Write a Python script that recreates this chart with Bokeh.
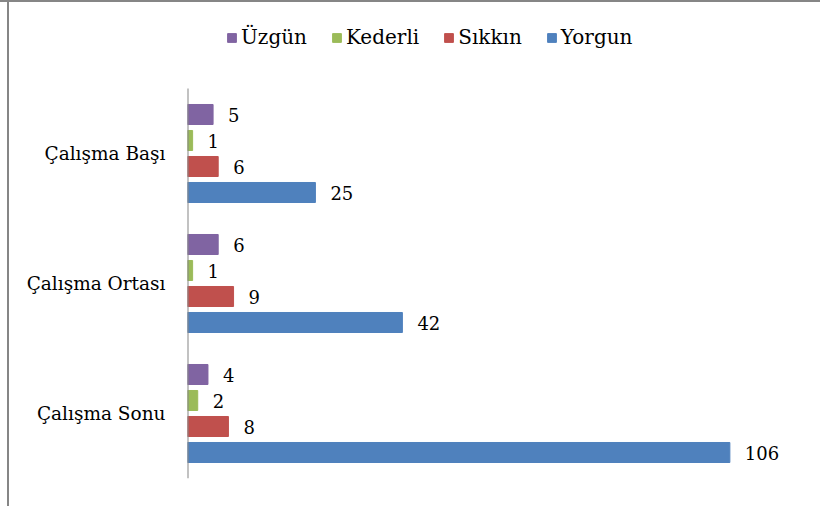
from bokeh.plotting import figure
from bokeh.models import ColumnDataSource, Range1d, Legend, LegendItem, FixedTicker
from bokeh.core.properties import value
from bokeh.embed import file_html
from bokeh.resources import INLINE

categories = ["Çalışma Başı", "Çalışma Ortası", "Çalışma Sonu"]
series = ["Üzgün", "Kederli", "Sıkkın", "Yorgun"]
uzgun = [5, 6, 4]
kederli = [1, 1, 2]
sikkin = [6, 9, 8]
yorgun = [25, 42, 106]
colors = ["#8064A2", "#9BBB59", "#C0504D", "#4F81BD"]
offsets = [0.3, 0.1, -0.1, -0.3]

FONT = "DejaVu Serif"
n = len(categories)
# category centres, first category on top
ypos = [n - 0.5 - k for k in range(n)]

vals = [uzgun, kederli, sikkin, yorgun]
data = dict(y=ypos)
for i, v in enumerate(vals):
    data["v%d" % i] = v
    data["l%d" % i] = [str(x) for x in v]
    data["y%d" % i] = [c + offsets[i] for c in ypos]
src = ColumnDataSource(data)

top_extra = 70 / 130
p = figure(width=820, height=506, output_backend="svg", toolbar_location=None,
           y_range=Range1d(0, n + top_extra), x_range=Range1d(0, 120),
           min_border_left=187, min_border_right=19, min_border_top=18, min_border_bottom=28)
p.outline_line_color = None
p.border_fill_color = None
p.background_fill_color = None
p.styles = {"background": "linear-gradient(#868686, #868686) 0 0 / 100% 2px no-repeat, "
                          "linear-gradient(#868686, #868686) 7px 0 / 2px 100% no-repeat, #ffffff"}
p.xgrid.visible = False
p.ygrid.visible = False
p.xaxis.visible = False

items = []
for i, s in enumerate(series):
    r = p.hbar(y="y%d" % i, right="v%d" % i, left=0, height=0.154,
               source=src, fill_color=colors[i], line_color=colors[i])
    p.text(x="v%d" % i, y="y%d" % i, text="l%d" % i, source=src,
           x_offset=15, text_baseline="middle", text_align="left",
           text_font=value(FONT), text_font_size="18px", text_color="#000000")
    items.append(LegendItem(label=s, renderers=[r]))

# category axis line spanning the categories only
p.segment(x0=[0], y0=[0], x1=[0], y1=[n], line_color="#868686", line_width=2)

yax = p.yaxis[0]
yax.ticker = FixedTicker(ticks=ypos)
yax.major_label_overrides = {y: c for y, c in zip(ypos, categories)}
yax.axis_line_color = None
yax.major_tick_line_color = None
yax.minor_tick_line_color = None
yax.major_label_standoff = 16
yax.major_label_text_font = FONT
yax.major_label_text_font_size = "18.5px"
yax.major_label_text_color = "#000000"

legend = Legend(items=items, orientation="horizontal", location=(39, 429),
                glyph_width=11, glyph_height=11, label_text_font=FONT,
                label_text_font_size="20px", label_text_color="#000000",
                label_standoff=4, spacing=24,
                padding=5, label_height=20,
                border_line_color=None, background_fill_alpha=0)
p.add_layout(legend, "center")

open("out.html", "w").write(file_html(p, INLINE))
